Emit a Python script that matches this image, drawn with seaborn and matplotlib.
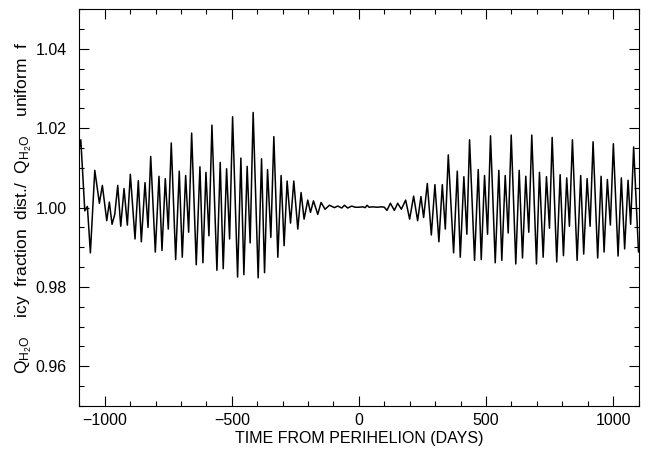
import numpy as np
import matplotlib.pyplot as plt
import seaborn as sns
from matplotlib.ticker import MultipleLocator

# extrema (days from perihelion, Q ratio)
days = [-1100, -1094.2, -1078.5, -1068.3, -1056.5, -1039.2, -1021.1, -1009.4, -992.1, -981.9,
        -971.3, -960.6, -948.9, -937.1, -924.1, -911.1, -899.3, -880.9, -867.9, -856.1,
        -841.6, -829.8, -819.2, -801.1, -786.6, -774.8, -761.8, -750.0, -738.3,
        -721.0, -706.8, -695.0, -681.7, -669.9, -658.1, -640.0, -625.5, -613.7, -601.9,
        -590.1, -578.3, -558.7, -545.7, -533.9, -520.6, -508.8, -497.0, -477.4, -464.4,
        -452.6, -439.7, -427.9, -416.1, -396.4, -383.1, -371.3,
        -359.5, -346.5, -334.7, -319.0, -306.1, -294.3, -282.5, -269.1, -256.2, -240.5,
        -227.5, -215.7, -201.2, -190.6, -178.8, -161.9, -148.9, -133.2, -115.9, -96.3,
        -83.3, -67.6, -57.0, -44.0, -28.3,
        -15, 0, 15, 25, 32, 40, 55, 70, 90, 100,
        110.4, 123.8, 139.5, 152.4, 167.0, 183.9, 199.6, 215.3, 231.0, 244.0,
        254.6, 269.1, 284.9, 299.0, 314.7, 328.1, 339.9, 351.6,
        372.5, 387.0, 398.8, 412.9, 424.7, 435.3, 455.0, 469.5, 481.3, 494.3,
        506.1, 517.8, 536.3, 550.5, 562.2, 575.6, 587.4, 599.2, 617.2, 630.6,
        643.6, 656.5, 668.3, 680.1, 698.6, 710.4,
        724.9, 737.9, 749.7, 760.3, 778.3, 791.7, 804.7, 817.6, 828.2, 840.0,
        858.5, 872.6, 884.4, 897.8, 909.6, 921.3, 939.4, 952.8, 964.6, 977.5,
        989.3, 1001.1, 1019.6, 1032.5, 1045.5, 1058.9, 1069.1, 1080.9, 1100]

ratio = [1.0150, 1.0171, 0.9992, 1.0003, 0.9886, 1.0094, 1.0011, 1.0056, 0.9967, 1.0014,
         0.9958, 0.9983, 1.0056, 0.9953, 1.0048, 0.9956, 1.0084, 0.9921, 1.0068, 0.9914,
         1.0063, 0.9950, 1.0129, 0.9888, 1.0079, 0.9892, 1.0073, 0.9946, 1.0163,
         0.9869, 1.0092, 0.9875, 1.0081, 0.9938, 1.0188, 0.9856, 1.0103, 0.9861, 1.0089,
         0.9929, 1.0208, 0.9842, 1.0114, 0.9846, 1.0098, 0.9921, 1.0229, 0.9825, 1.0125,
         0.9831, 1.0104, 0.9911, 1.0240, 0.9823, 1.0123, 0.9836,
         1.0096, 0.9925, 1.0179, 0.9875, 1.0081, 0.9904, 1.0067, 0.9961, 1.0067, 0.9946,
         1.0038, 0.9971, 1.0019, 0.9988, 1.0017, 0.9983, 1.0013, 0.9996, 1.0006, 1.0000,
         1.0004, 0.9999, 1.0006, 0.9999, 1.0004,
         1.0001, 1.0001, 1.0002, 1.0000, 1.0006, 1.0001, 1.0002, 1.0001, 1.0002, 1.0001,
         0.9993, 1.0011, 0.9993, 1.0011, 0.9996, 1.0019, 0.9971, 1.0029, 0.9967, 1.0028,
         0.9975, 1.0061, 0.9931, 1.0058, 0.9914, 1.0058, 0.9946, 1.0133,
         0.9886, 1.0092, 0.9875, 1.0078, 0.9933, 1.0171, 0.9867, 1.0096, 0.9869, 1.0081,
         0.9933, 1.0181, 0.9861, 1.0094, 0.9867, 1.0081, 0.9936, 1.0183, 0.9858, 1.0094,
         0.9873, 1.0079, 0.9938, 1.0183, 0.9858, 1.0089,
         0.9875, 1.0078, 0.9948, 1.0177, 0.9863, 1.0083, 0.9879, 1.0075, 0.9953, 1.0171,
         0.9867, 1.0081, 0.9883, 1.0073, 0.9953, 1.0166, 0.9873, 1.0079, 0.9888, 1.0071,
         0.9956, 1.0161, 0.9878, 1.0075, 0.9896, 1.0069, 0.9958, 1.0153, 0.9888]

sns.set_style('ticks')
plt.rcParams['font.family'] = ['Liberation Sans', 'DejaVu Sans']
plt.rcParams['mathtext.fontset'] = 'custom'
plt.rcParams['mathtext.rm'] = 'Liberation Sans'
plt.rcParams['text.color'] = 'black'
plt.rcParams['axes.labelcolor'] = 'black'
plt.rcParams['xtick.color'] = 'black'
plt.rcParams['ytick.color'] = 'black'

fig = plt.figure(figsize=(6.54, 4.53), dpi=100)
ax = fig.add_axes([0.1213, 0.1038, 0.855, 0.8757])

sns.lineplot(x=days, y=ratio, ax=ax, color='black', linewidth=1.1, sort=False)

ax.set_xlim(-1100, 1100)
ax.set_ylim(0.95, 1.05)
ax.xaxis.set_major_locator(MultipleLocator(500))
ax.xaxis.set_minor_locator(MultipleLocator(100))
ax.yaxis.set_major_locator(MultipleLocator(0.02))
ax.yaxis.set_minor_locator(MultipleLocator(0.005))
ax.yaxis.set_major_formatter(lambda v, p: f'{v:.2f}')

ax.tick_params(which='both', direction='in', top=True, right=True, width=0.8)
ax.tick_params(which='major', length=7)
ax.tick_params(which='minor', length=3.5)
ax.tick_params(axis='x', labelsize=11.5, pad=5)
ax.tick_params(axis='y', labelsize=11.5, pad=9)
for s in ax.spines.values():
    s.set_color('black')
    s.set_linewidth(0.8)

ax.set_xlabel('TIME FROM PERIHELION (DAYS)', fontsize=11.5, labelpad=2)
ax.set_ylabel(r'$\mathregular{Q_{H_2O}}$    icy  fraction  dist./  $\mathregular{Q_{H_2O}}$    uniform  f',
              fontsize=12.5, labelpad=1)

plt.savefig('out.png', dpi=100)
